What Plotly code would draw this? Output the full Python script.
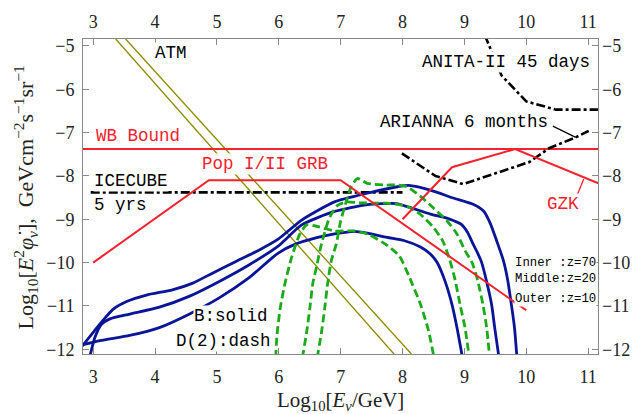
import plotly.graph_objects as go

# ---------------- data ----------------
x_range = [2.835, 11.16]
y_range = [-12.11, -4.84]
x_ticks = [3, 4, 5, 6, 7, 8, 9, 10, 11]
y_ticks = [-12, -11, -10, -9, -8, -7, -6, -5]

wb_x = [2.8, 11.3]
wb_y = [-7.38, -7.38]

atm1_x = [3.364, 7.862]
atm1_y = [-4.84, -12.11]
atm2_x = [3.524, 8.144]
atm2_y = [-4.84, -12.11]

icecube_x = [2.96, 8.0]
icecube_y = [-8.38, -8.38]

grb_x = [3.0, 4.87, 7.0, 10.0]
grb_y = [-10.0, -8.1, -8.1, -11.1]

gzk_x = [8.0, 8.8, 9.82, 11.3]
gzk_y = [-9.0, -7.8, -7.38, -8.25]
gzk_ptr_x = [10.8, 10.93]
gzk_ptr_y = [-8.52, -8.07]

anita_x = [9.33, 9.6, 10.0, 10.48, 11.3]
anita_y = [-4.75, -5.68, -6.28, -6.47, -6.47]

arianna_x = [7.99, 8.53, 8.98, 10.05, 10.37, 10.8, 11.01]
arianna_y = [-7.48, -8.0, -8.19, -7.68, -7.36, -7.11, -6.96]
arianna_ptr_x = [10.43, 10.8]
arianna_ptr_y = [-6.85, -7.11]

# B (solid) spectra
b_inner_x = [2.81, 3.0, 3.16, 3.32, 3.54, 3.86, 4.28, 4.6, 4.92, 5.3, 5.67, 5.99, 6.37, 6.9,
             7.43, 7.92, 8.1, 8.45, 8.82, 9.15, 9.31, 9.42, 9.52, 9.63, 9.7, 9.76, 9.81, 9.85]
b_inner_y = [-11.95, -11.61, -11.33, -11.08, -10.9, -10.75, -10.63, -10.48, -10.25, -9.98, -9.72,
             -9.46, -9.02, -8.6, -8.4, -8.25, -8.22, -8.33, -8.51, -8.66, -8.81, -9.1, -9.49,
             -9.95, -10.4, -10.97, -11.5, -12.2]
b_middle_x = [2.95, 3.03, 3.13, 3.27, 3.59, 4.07, 4.55, 5.03, 5.51, 5.99, 6.37, 6.9, 7.43,
              7.9, 8.1, 8.45, 8.75, 8.95, 9.05, 9.15, 9.22, 9.28, 9.36, 9.44, 9.49, 9.56]
b_middle_y = [-12.14, -11.72, -11.43, -11.3, -11.19, -11.03, -10.78, -10.44, -10.06, -9.62,
              -9.13, -8.82, -8.66, -8.64, -8.72, -8.88, -8.99, -9.12, -9.3, -9.6, -9.8, -10.0,
              -10.44, -10.97, -11.5, -12.2]
b_outer_x = [2.79, 3.11, 3.59, 4.07, 4.55, 5.03, 5.51, 5.99, 6.26, 6.63, 6.9, 7.22, 7.43, 7.75,
             8.02, 8.29, 8.45, 8.56, 8.69, 8.8, 8.88, 8.97]
b_outer_y = [-11.91, -11.8, -11.68, -11.5, -11.19, -10.82, -10.36, -9.78, -9.58, -9.42, -9.34,
             -9.28, -9.32, -9.42, -9.49, -9.64, -9.8, -10.0, -10.44, -10.97, -11.5, -12.2]

# D(2) (dashed) spectra
d_inner_x = [6.62, 6.69, 6.74, 6.79, 6.85, 6.93, 7.0, 7.09, 7.17, 7.27, 7.43, 7.7, 7.92, 8.07,
             8.29, 8.5, 8.72, 8.88, 9.01, 9.13, 9.22, 9.3, 9.36, 9.41]
d_inner_y = [-12.2, -11.61, -11.08, -10.48, -9.95, -9.57, -9.04, -8.59, -8.25, -8.06, -8.17,
             -8.21, -8.21, -8.25, -8.47, -8.74, -9.04, -9.34, -9.72, -10.02, -10.44, -10.97,
             -11.5, -12.2]
d_middle_x = [6.38, 6.45, 6.5, 6.55, 6.61, 6.69, 6.82, 6.95, 7.1, 7.3, 7.6, 7.75, 8.07, 8.29,
              8.5, 8.65, 8.76, 8.85, 8.93, 9.01, 9.08]
d_middle_y = [-12.2, -11.61, -11.08, -10.48, -10.1, -9.57, -8.96, -8.68, -8.6, -8.62, -8.63,
              -8.63, -8.7, -8.89, -9.19, -9.5, -9.92, -10.4, -10.97, -11.5, -12.2]
d_outer_x = [5.95, 5.97, 6.02, 6.1, 6.21, 6.34, 6.45, 6.58, 6.9, 7.22, 7.43, 7.75, 7.95, 8.1,
             8.29, 8.42, 8.51]
d_outer_y = [-12.2, -11.69, -11.08, -10.48, -9.87, -9.34, -9.13, -9.15, -9.27, -9.27, -9.34,
             -9.6, -9.85, -10.3, -10.96, -11.57, -12.2]

# ---------------- styles ----------------
RED = "#f5222d"
BLUE = "#0a1496"
GREEN = "#1aaa1a"
OLIVE = "#8a8a00"
MONO = "Liberation Mono"
SERIF = "Liberation Serif"

fig = go.Figure()


def add_line(x, y, color, width, dash="solid", shape="linear"):
    fig.add_trace(go.Scatter(x=x, y=y, mode="lines",
                             line=dict(color=color, width=width, dash=dash, shape=shape,
                                       smoothing=0.6),
                             hoverinfo="skip", showlegend=False))


add_line(atm1_x, atm1_y, OLIVE, 1.3)
add_line(atm2_x, atm2_y, OLIVE, 1.3)
add_line(wb_x, wb_y, RED, 2)
add_line(icecube_x, icecube_y, "black", 2.6, dash="9px,3px,3px,3px")
add_line(anita_x, anita_y, "black", 2.6, dash="9px,3px,3px,3px")
add_line(arianna_x, arianna_y, "black", 2.6, dash="9px,3px,3px,3px")
add_line(arianna_ptr_x, arianna_ptr_y, "black", 1.2)

for xs, ys in [(b_inner_x, b_inner_y), (b_middle_x, b_middle_y), (b_outer_x, b_outer_y)]:
    add_line(xs, ys, BLUE, 2.8, shape="spline")
for xs, ys in [(d_inner_x, d_inner_y), (d_middle_x, d_middle_y), (d_outer_x, d_outer_y)]:
    add_line(xs, ys, GREEN, 2.8, dash="8px,4px", shape="spline")

add_line(grb_x, grb_y, RED, 2)
add_line(gzk_x, gzk_y, RED, 2)
add_line(gzk_ptr_x, gzk_ptr_y, RED, 1.3)

# dummy trace for the mirrored (top / right) labelled axes
fig.add_trace(go.Scatter(x=[3], y=[-12], xaxis="x2", yaxis="y2", mode="markers",
                         marker=dict(opacity=0), hoverinfo="skip", showlegend=False))

# ---------------- labels ----------------
labels = [
    ("ATM", 4.25, -5.17, "black", 17.5, "center"),
    ("ANITA-II 45 days", 9.67, -5.36, "black", 17.5, "center"),
    ("ARIANNA 6 months", 9.0, -6.76, "black", 17.5, "center"),
    ("WB Bound", 3.73, -7.08, RED, 17.5, "center"),
    ("Pop I/II GRB", 5.78, -7.72, RED, 17.5, "center"),
    ("ICECUBE", 3.0, -8.11, "black", 17.5, "left"),
    ("5 yrs", 3.0, -8.67, "black", 17.5, "left"),
    ("GZK", 10.6, -8.65, RED, 17.5, "center"),
    ("B:solid", 5.23, -11.24, "black", 17.5, "center"),
    ("D(2):dash", 5.1, -11.8, "black", 17.5, "center"),
    ("Inner :z=70", 10.47, -10.0, "black", 12.3, "center"),
    ("Middle:z=20", 10.47, -10.39, "black", 12.3, "center"),
    ("Outer :z=10", 10.47, -10.83, "black", 12.3, "center"),
]
for text, x, y, color, size, anchor in labels:
    fig.add_annotation(x=x, y=y, text=text, showarrow=False, xanchor=anchor, yanchor="middle",
                       font=dict(family=MONO, size=size, color=color),
                       bgcolor="white", borderpad=0)

# axis titles
fig.add_annotation(xref="paper", yref="paper", x=0.5, y=-0.148, xanchor="center",
                   yanchor="middle", showarrow=False,
                   text="Log<sub>10</sub>[<i>E</i><sub><i>ν</i></sub>/GeV]",
                   font=dict(family=SERIF, size=21, color="#222"))
fig.add_annotation(xref="paper", yref="paper", x=-0.112, y=0.498, xanchor="center",
                   yanchor="middle", showarrow=False, textangle=-90,
                   text="Log<sub>10</sub>[<i>E</i><sup>2</sup><i>φ̇</i><sub><i>ν</i></sub>],  "
                        "GeVcm<sup>−2</sup>s<sup>−1</sup>sr<sup>−1</sup>",
                   font=dict(family=SERIF, size=22, color="#222"))

axis_common = dict(showgrid=False, zeroline=False, tickfont=dict(family=SERIF, size=18,
                                                                 color="#222"))
fig.update_layout(
    width=642, height=414,
    margin=dict(l=83, r=39, t=33, b=60),
    paper_bgcolor="white", plot_bgcolor="white",
    showlegend=False,
    xaxis=dict(range=x_range, tickvals=x_ticks, ticks="inside", ticklen=6, tickcolor="#888",
               showline=True, linecolor="#888", linewidth=1, mirror="ticks",
               ticklabelstandoff=6, **axis_common),
    yaxis=dict(range=y_range, tickvals=y_ticks, ticks="inside", ticklen=6, tickcolor="#888",
               showline=True, linecolor="#888", linewidth=1, mirror="ticks",
               ticklabelstandoff=4, **axis_common),
    xaxis2=dict(range=x_range, tickvals=x_ticks, overlaying="x", side="top", anchor="y",
                ticks="", showline=False, ticklabelstandoff=6, **axis_common),
    yaxis2=dict(range=y_range, tickvals=y_ticks, overlaying="y", side="right", anchor="x",
                ticks="", showline=False, ticklabelstandoff=3, **axis_common),
)

fig.write_html("out.html", config={"displayModeBar": False},
               post_script="document.body.style.margin='0';document.body.style.padding='0';")
